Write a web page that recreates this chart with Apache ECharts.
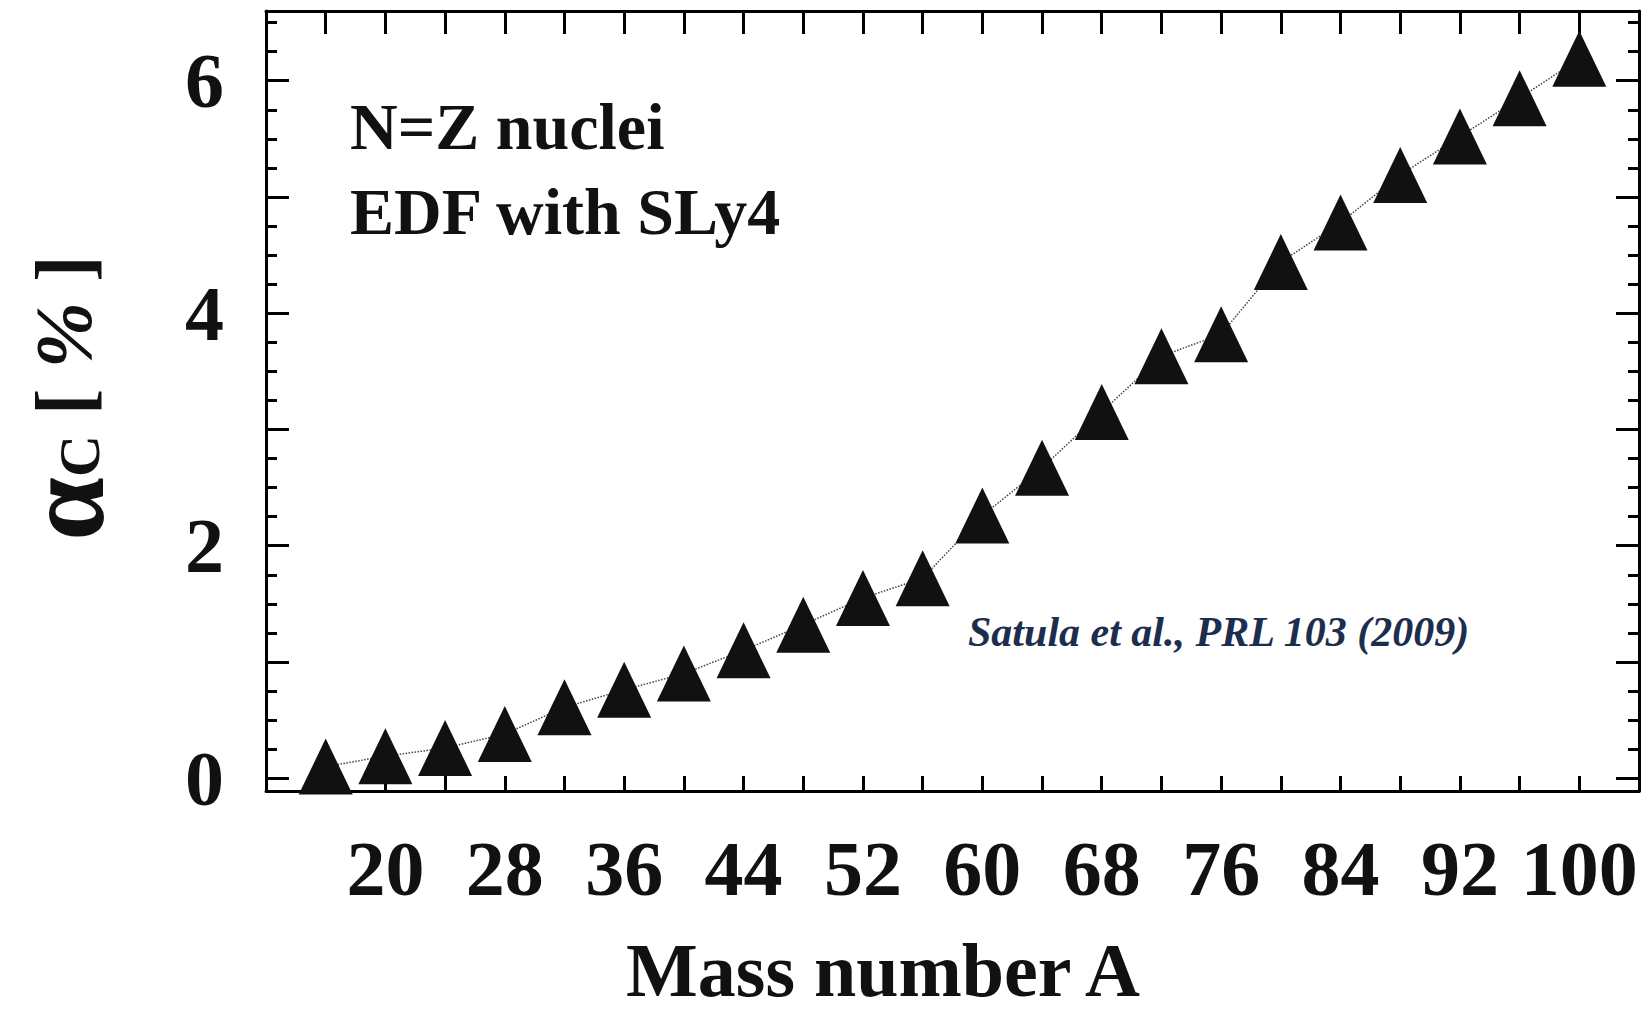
<!DOCTYPE html>
<html>
<head>
<meta charset="utf-8">
<title>Isospin mixing in N=Z nuclei</title>
<script src="https://cdn.jsdelivr.net/npm/echarts@6/dist/echarts.min.js"></script>
<style>
  html, body { margin: 0; padding: 0; background: #ffffff; }
  #chart { width: 1647px; height: 1012px; }
</style>
</head>
<body>
<div id="chart"></div>
<script>
// Mass numbers of the N=Z nuclei and the computed isospin-mixing coefficient (%)
const massNumber = [16, 20, 24, 28, 32, 36, 40, 44, 48, 52, 56, 60, 64, 68, 72, 76, 80, 84, 88, 92, 96, 100];
const alphaC = [0.10, 0.19, 0.26, 0.38, 0.61, 0.76, 0.90, 1.10, 1.32, 1.55, 1.72, 2.26, 2.67, 3.15, 3.63, 3.82, 4.44, 4.78, 5.19, 5.52, 5.85, 6.19];

// Axis ticks and labels
const xTickValues = [16, 20, 24, 28, 32, 36, 40, 44, 48, 52, 56, 60, 64, 68, 72, 76, 80, 84, 88, 92, 96, 100];
const xTickLabels = [20, 28, 36, 44, 52, 60, 68, 76, 84, 92, 100];
const yMajorTicks = [0, 1, 2, 3, 4, 5, 6];
const yMinorTicks = [0.25, 0.5, 0.75, 1.25, 1.5, 1.75, 2.25, 2.5, 2.75, 3.25, 3.5, 3.75, 4.25, 4.5, 4.75, 5.25, 5.5, 5.75, 6.25, 6.5];
const yTickLabels = [0, 2, 4, 6];

const SERIF = "'Liberation Serif', 'Times New Roman', serif";
const X_MIN = 12, X_MAX = 104;
const Y_MIN = -0.11, Y_MAX = 6.6;

function xAxisDef(pos, tickLen, withLabels) {
  return {
    type: 'value', position: pos, min: X_MIN, max: X_MAX, interval: 4,
    axisLine: { show: true, onZero: false, lineStyle: { color: '#000', width: 3 } },
    axisTick: { show: true, inside: true, length: tickLen, customValues: xTickValues,
                lineStyle: { color: '#000', width: 3 } },
    axisLabel: withLabels ? {
      show: true, customValues: xTickLabels, margin: 38,
      fontFamily: SERIF, fontWeight: 'bold', fontSize: 78, color: '#111'
    } : { show: false },
    splitLine: { show: false }
  };
}

function yAxisDef(pos, ticks, tickLen, showLine, withLabels) {
  return {
    type: 'value', position: pos, min: Y_MIN, max: Y_MAX,
    axisLine: { show: showLine, onZero: false, lineStyle: { color: '#000', width: 3 } },
    axisTick: { show: true, inside: true, length: tickLen, customValues: ticks,
                lineStyle: { color: '#000', width: 3 } },
    axisLabel: withLabels ? {
      show: true, customValues: yTickLabels, margin: 42,
      fontFamily: SERIF, fontWeight: 'bold', fontSize: 78, color: '#111'
    } : { show: false },
    splitLine: { show: false }
  };
}

const chart = echarts.init(document.getElementById('chart'), null, { renderer: 'svg' });

chart.setOption({
  backgroundColor: '#ffffff',
  animation: false,
  grid: { left: 266, right: 8, top: 11, bottom: 221, containLabel: false, outerBoundsMode: 'none' },
  xAxis: [
    xAxisDef('bottom', 15, true),
    xAxisDef('top', 23, false)
  ],
  yAxis: [
    yAxisDef('left', yMajorTicks, 23, true, true),
    yAxisDef('left', yMinorTicks, 11, false, false),
    yAxisDef('right', yMajorTicks, 23, true, false),
    yAxisDef('right', yMinorTicks, 11, false, false)
  ],
  series: [{
    type: 'line',
    xAxisIndex: 0,
    yAxisIndex: 0,
    data: massNumber.map((a, i) => [a, alphaC[i]]),
    symbol: 'triangle',
    symbolSize: [54, 56],
    itemStyle: { color: '#111' },
    lineStyle: { color: '#444', width: 1.5, type: 'dotted' },
    z: 3
  }],
  graphic: [
    {
      type: 'text', x: 350, y: 126,
      style: { text: 'N=Z nuclei', fill: '#111', font: "bold 66px " + SERIF,
               align: 'left', verticalAlign: 'middle' }
    },
    {
      type: 'text', x: 350, y: 211,
      style: { text: 'EDF with SLy4', fill: '#111', font: "bold 66px " + SERIF,
               align: 'left', verticalAlign: 'middle' }
    },
    {
      type: 'text', x: 968, y: 632,
      style: { text: 'Satula et al., PRL 103 (2009)', fill: '#1c2d4e',
               font: "italic bold 42px " + SERIF, align: 'left', verticalAlign: 'middle' }
    },
    {
      type: 'text', x: 883, y: 970,
      style: { text: 'Mass number A', fill: '#111', font: "bold 76px " + SERIF,
               lineHeight: 60, align: 'center', verticalAlign: 'middle' }
    },
    {
      type: 'text', x: 64, y: 398, rotation: Math.PI / 2,
      style: {
        text: '{a|α}{c|C}{b| [ }{p|%}{b| ]}',
        align: 'center', verticalAlign: 'middle', fill: '#111',
        rich: {
          a: { font: "bold 114px " + SERIF, fill: '#111', lineHeight: 96 },
          c: { font: "bold 58px " + SERIF, fill: '#111', lineHeight: 96, padding: [30, 0, 0, 0] },
          b: { font: "bold 80px " + SERIF, fill: '#111', lineHeight: 96 },
          p: { font: "italic bold 80px " + SERIF, fill: '#111', lineHeight: 96 }
        }
      }
    }
  ]
});
</script>
</body>
</html>
